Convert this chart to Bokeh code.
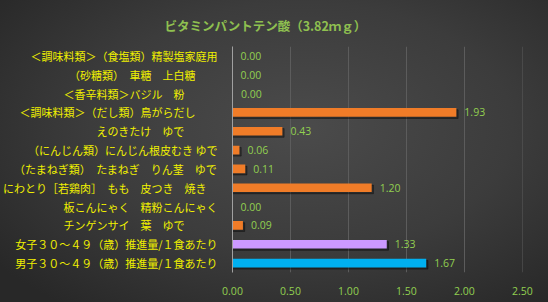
from bokeh.plotting import figure
from bokeh.models import FactorRange, Range1d, FixedTicker, NumeralTickFormatter, ColumnDataSource
from bokeh.core.properties import value
from bokeh.embed import file_html
from bokeh.resources import INLINE

title_text = "ビタミンパントテン酸（3.82ｍｇ）"
categories = [
    "＜調味料類＞（食塩類）精製塩家庭用",
    "（砂糖類）　車糖　上白糖　　",
    "＜香辛料類＞バジル　粉　　　",
    "＜調味料類＞（だし類）鳥がらだし　　",
    "えのきたけ　ゆで　　　",
    "（にんじん類）にんじん根皮むき ゆで",
    "（たまねぎ類）　たまねぎ　りん茎　ゆで",
    "にわとり［若鶏肉］　もも　皮つき　焼き　",
    "板こんにゃく　精粉こんにゃく",
    "チンゲンサイ　葉　ゆで　　　",
    "女子３０～４９（歳）推進量/１食あたり",
    "男子３０～４９（歳）推進量/１食あたり",
]
values = [0.0, 0.0, 0.004, 1.93, 0.43, 0.06, 0.11, 1.20, 0.0, 0.09, 1.33, 1.67]
colors = ["#f07c28"] * 10 + ["#cc99ff", "#00b0f0"]
x_ticks = [0.0, 0.5, 1.0, 1.5, 2.0, 2.5]

labels_txt = [f"{v:.2f}" for v in values]

src = ColumnDataSource(dict(y=categories, v=values, c=colors, t=labels_txt))
shadow = ColumnDataSource(dict(
    y=[(c, -0.09) for c in categories],
    v=[v + 0.015 if v > 0.01 else 0 for v in values],
))

p = figure(width=548, height=302, output_backend="svg", toolbar_location=None,
           y_range=FactorRange(*reversed(categories)), x_range=Range1d(0, 2.5001),
           min_border_left=231, min_border_right=26, min_border_top=46, min_border_bottom=30,
           title=title_text)

p.styles = {"background": "radial-gradient(ellipse 70% 75% at 55% 42%, #4b4b4b 0%, #3c3c3c 55%, #282828 100%)"}
p.background_fill_alpha = 0
p.border_fill_alpha = 0
p.outline_line_color = None

p.title.align = "left"
p.title.offset = -68
p.title.standoff = 23
p.title.text_color = "#8fc050"
p.title.text_font = "Noto Sans CJK JP"
p.title.text_font_size = "12.5px"
p.title.text_font_style = "bold"

p.hbar(y="y", left=0, right="v", height=0.46, source=shadow, color="black", alpha=0.35)
p.hbar(y="y", left=0, right="v", height=0.46, source=src, fill_color="c", line_color=None)
p.text(x="v", y="y", text="t", source=src, x_offset=8, text_baseline="middle",
       text_font=value("Open Sans"), text_font_size="10.5px", text_color="#92d050")

p.xaxis.ticker = FixedTicker(ticks=x_ticks)
p.xaxis.formatter = NumeralTickFormatter(format="0.00")
p.xaxis.axis_line_color = None
p.xaxis.major_tick_line_color = None
p.xaxis.minor_tick_line_color = None
p.xaxis.major_label_text_color = "#92d050"
p.xaxis.major_label_text_font = "Open Sans"
p.xaxis.major_label_text_font_size = "10.5px"
p.xaxis.major_label_standoff = 8

p.yaxis.axis_line_color = "#a0a0a0"
p.yaxis.major_tick_line_color = None
p.yaxis.minor_tick_line_color = None
p.yaxis.major_label_text_color = "#f0f000"
p.yaxis.major_label_text_font = "Noto Sans CJK JP"
p.yaxis.major_label_text_font_size = "11px"
p.yaxis.major_label_standoff = 9

p.xgrid.ticker = FixedTicker(ticks=x_ticks)
p.xgrid.grid_line_color = "#5c5c5c"
p.ygrid.grid_line_color = None

open("out.html", "w").write(file_html(p, INLINE))
